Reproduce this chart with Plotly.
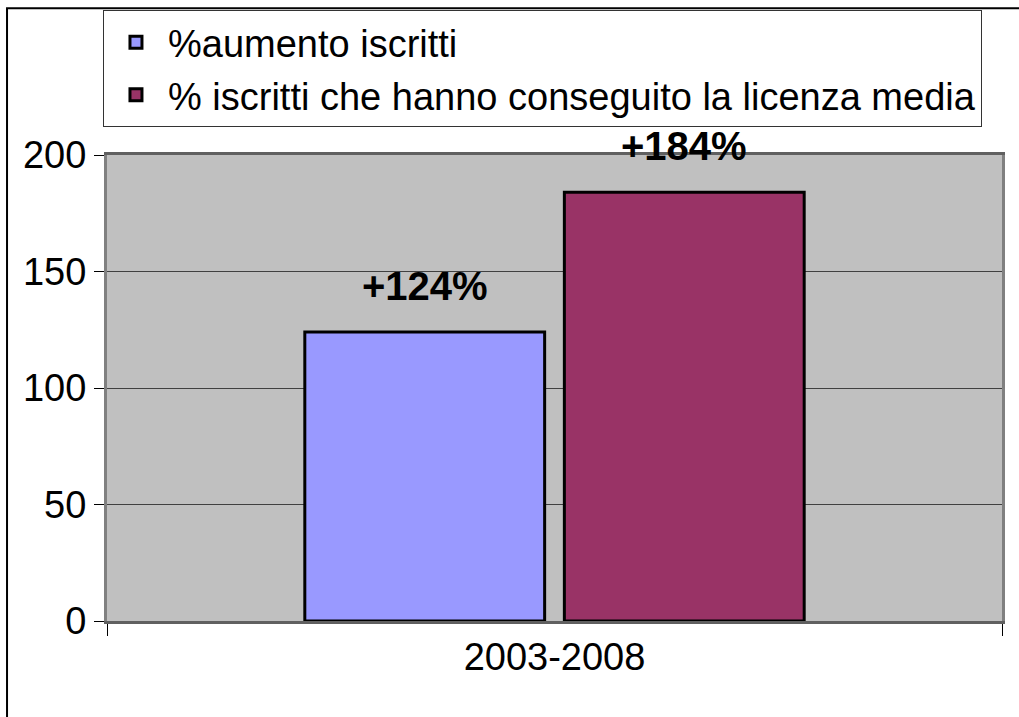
import plotly.graph_objects as go

categories = ["2003-2008"]
series_names = ["%aumento iscritti", "% iscritti che hanno conseguito la licenza media"]
series_values = [[124], [184]]
series_labels = ["+124%", "+184%"]
series_colors = ["#9999FF", "#993366"]
y_ticks = [0, 50, 100, 150, 200]

FONT = "Liberation Sans, Arial, sans-serif"
BARGAP = 0.42
GROUPGAP = 0.076

fig = go.Figure()
for name, vals, col in zip(series_names, series_values, series_colors):
    fig.add_trace(go.Bar(
        x=categories, y=vals, name=name,
        marker=dict(color=col, line=dict(color="black", width=3)),
    ))

# value labels above each bar
n = len(series_names)
slot = (1 - BARGAP) / n
for i, (vals, lab) in enumerate(zip(series_values, series_labels)):
    off = -(1 - BARGAP) / 2 + slot * (i + 0.5)
    for ci, v in enumerate(vals):
        fig.add_annotation(
            x=ci + off, y=v, xref="x", yref="y", text="<b>%s</b>" % lab,
            showarrow=False, yanchor="bottom", yshift=22,
            font=dict(family=FONT, size=40, color="black"),
        )

# outer chart border
fig.add_shape(type="rect", xref="paper", yref="paper",
              x0=-0.1117, x1=1.2, y0=-0.5, y1=1.3148,
              line=dict(color="black", width=2), layer="below")

fig.update_layout(
    width=1019, height=717,
    margin=dict(l=107, r=17, t=154, b=96),
    paper_bgcolor="white", plot_bgcolor="#C0C0C0",
    barmode="group", bargap=BARGAP, bargroupgap=GROUPGAP,
    font=dict(family=FONT, size=38, color="black"),
    legend=dict(
        x=-0.0045, y=1.308, xanchor="left", yanchor="top",
        bordercolor="#333333", borderwidth=1, bgcolor="white",
        font=dict(family=FONT, size=38, color="black"),
        traceorder="normal", itemwidth=54,
    ),
    showlegend=True,
)
fig.update_xaxes(
    type="category", tickson="boundaries", ticks="outside", ticklen=12,
    tickcolor="black", tickwidth=1, showgrid=False,
    showline=True, linecolor="#606060", linewidth=3, mirror=True,
    tickfont=dict(family=FONT, size=38, color="black"),
)
fig.update_yaxes(
    range=[0, 200], tickvals=y_ticks, ticks="outside", ticklen=10,
    tickcolor="black", tickwidth=1,
    showgrid=True, gridcolor="#404040", gridwidth=1, zeroline=False,
    showline=True, linecolor="#808080", linewidth=3, mirror=True,
    tickfont=dict(family=FONT, size=38, color="black"),
)

fig.write_html(
    "out.html",
    config={"displayModeBar": False},
    post_script="document.body.style.margin='0';document.body.style.overflow='hidden';",
)
